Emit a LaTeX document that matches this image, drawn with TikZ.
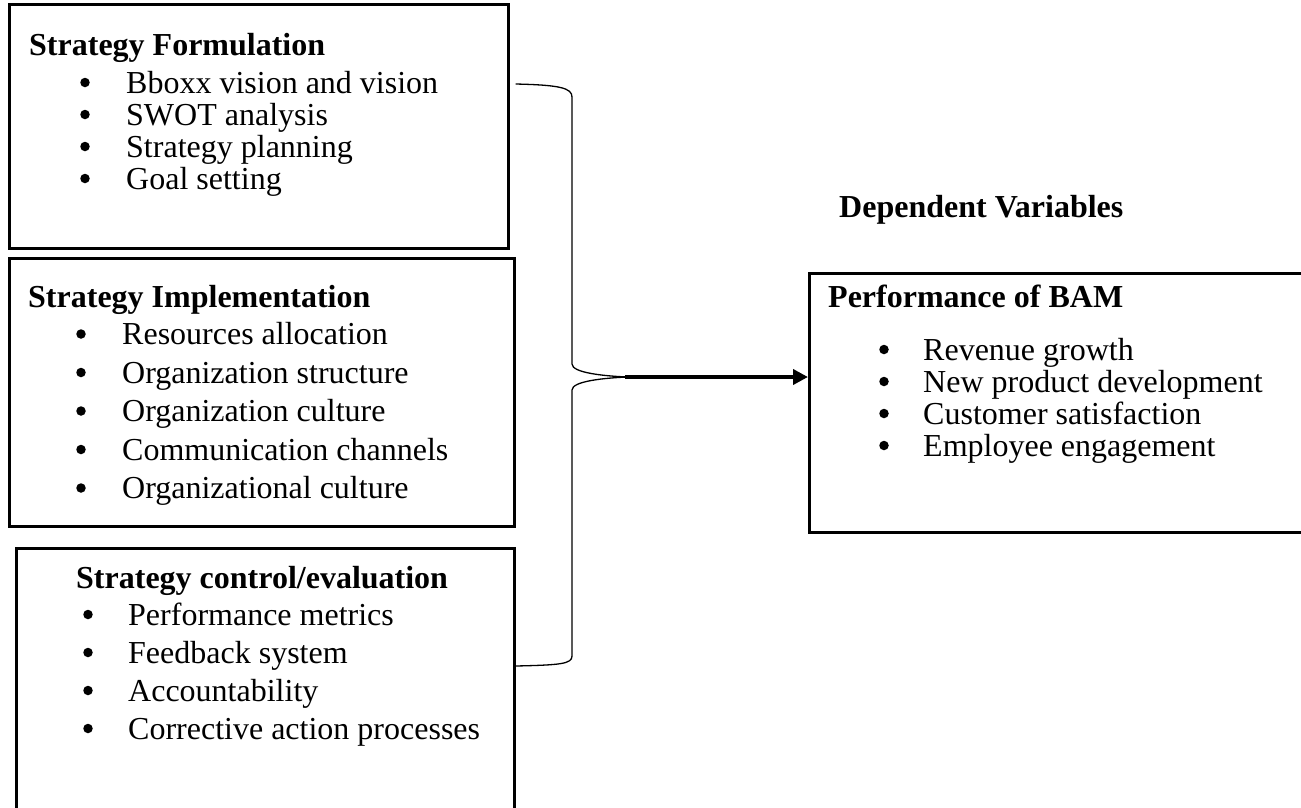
\documentclass[tikz,border=0pt]{standalone}
\usepackage{fontspec}
\setmainfont{Liberation Serif}
\usetikzlibrary{arrows.meta}
\begin{document}
\begin{tikzpicture}[x=1pt,y=-1pt,
 box/.style={draw, line width=2.6pt, anchor=north west, inner sep=0pt},
 head/.style={anchor=base west, inner sep=0pt, font=\fontsize{32}{38}\selectfont\bfseries},
 item/.style={anchor=base west, inner sep=0pt, font=\fontsize{32}{38}\selectfont},
 bul/.style={circle, fill=black, inner sep=0pt, minimum size=9.5pt, yshift=10.5pt},
 brace/.style={line width=1.3pt},
 arr/.style={line width=4.5pt, -{Triangle[length=15pt,width=15pt]}}
]
\clip (0,0) rectangle (1301,807);
\fill[white] (0,0) rectangle (1301,807);
% boxes
\node[box, minimum width=499pt, minimum height=244pt] (bf) at (8,3) {};
\node[box, minimum width=505pt, minimum height=268pt] (bi) at (8,257) {};
\node[box, minimum width=498pt, minimum height=280pt] (bc) at (15,547) {};
\node[box, minimum width=520pt, minimum height=259pt] (bp) at (808,272) {};
% box 1
\node[head] (hf) at (29,55) {Strategy Formulation};
\foreach \t [count=\i] in {Bboxx vision and vision, SWOT analysis, Strategy planning, Goal setting} {
  \node[bul] (fb\i) at (85,61+32*\i) {};
  \node[item] (ft\i) at (126,61+32*\i) {\t};
}
% box 2
\node[head] (hi) at (28,307) {Strategy Implementation};
\foreach \t [count=\i] in {Resources allocation, Organization structure, Organization culture, Communication channels, Organizational culture} {
  \node[bul] (ib\i) at (81,306+38.5*\i) {};
  \node[item] (it\i) at (122,306+38.5*\i) {\t};
}
% box 3
\node[head] (hc) at (76,588) {Strategy control/evaluation};
\foreach \t [count=\i] in {Performance metrics, Feedback system, Accountability, Corrective action processes} {
  \node[bul] (cb\i) at (88,587+38*\i) {};
  \node[item] (ct\i) at (128,587+38*\i) {\t};
}
% right
\node[head] (dv) at (839,217) {Dependent Variables};
\node[head] (hp) at (828,307) {Performance of BAM};
\foreach \t [count=\i] in {Revenue growth, New product development, Customer satisfaction, Employee engagement} {
  \node[bul] (pb\i) at (884,328+32*\i) {};
  \node[item] (pt\i) at (923,328+32*\i) {\t};
}
% brace
\coordinate (btop) at ([xshift=6pt]bf.east |- 0,84);
\coordinate (bbot) at (bc.east |- 0,666);
\coordinate (tip) at (627,377);
\draw[brace] (btop) .. controls (560,85) and (572,88) .. (572,97) -- (572,364)
  .. controls (572,373) and (605,376) .. (tip)
  .. controls (605,378) and (572,381) .. (572,390) -- (572,656)
  .. controls (572,664) and (560,665) .. (bbot);
\draw[arr] ([xshift=-2pt]tip.center) -- (tip -| bp.west);
\end{tikzpicture}
\end{document}
